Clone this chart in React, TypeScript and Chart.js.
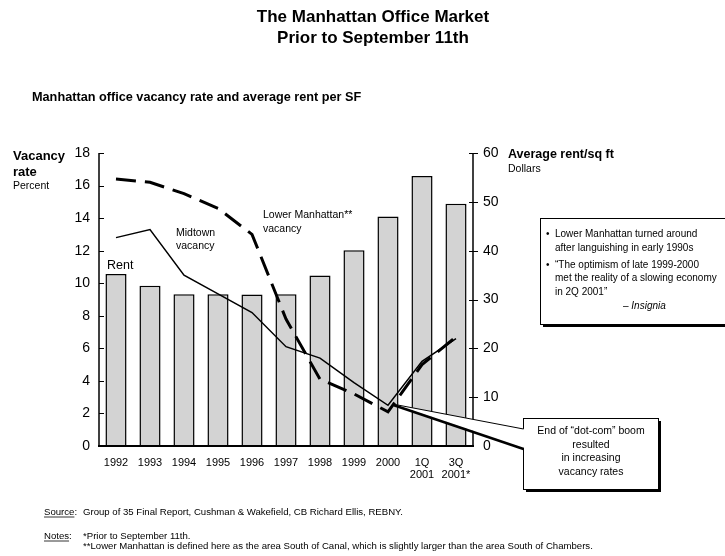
import React, { useEffect, useRef } from 'react';
import { Chart, registerables } from 'chart.js';

Chart.register(...registerables);

const FONT = "'Liberation Sans', Arial, Helvetica, sans-serif";

const categories: (string | string[])[] = [
  '1992', '1993', '1994', '1995', '1996', '1997', '1998', '1999', '2000',
  ['1Q', '2001'], ['3Q', '2001*'],
];
// Average rent per sq ft (dollars, right axis)
const rentPerSqFt = [35.2, 32.8, 31.1, 31.1, 31.0, 31.1, 34.9, 40.1, 47.0, 55.3, 49.6];
// Vacancy rates (percent, left axis)
const midtownVacancy = [12.8, 13.3, 10.5, 9.35, 8.2, 6.1, 5.4, 3.9, 2.5, 5.2, 6.6];
const lowerManhattanVacancy = [16.4, 16.2, 15.5, 14.6, 13.0, 7.8, 4.1, 3.2, 2.1, 5.0, 6.7];

const vacancyTicks = [0, 2, 4, 6, 8, 10, 12, 14, 16, 18];
const rentTicks = [0, 10, 20, 30, 40, 50, 60];

function drawText(
  ctx: CanvasRenderingContext2D,
  s: string,
  x: number,
  y: number,
  font: string,
  align: CanvasTextAlign = 'left',
) {
  ctx.font = font;
  ctx.textAlign = align;
  ctx.textBaseline = 'alphabetic';
  ctx.fillStyle = '#000';
  ctx.fillText(s, x, y);
}

function seg(ctx: CanvasRenderingContext2D, x1: number, y1: number, x2: number, y2: number) {
  ctx.beginPath();
  ctx.moveTo(x1, y1);
  ctx.lineTo(x2, y2);
  ctx.stroke();
}

function shadowBox(ctx: CanvasRenderingContext2D, x: number, y: number, w: number, h: number) {
  ctx.fillStyle = '#000';
  ctx.fillRect(x + 3, y + 3, w, h);
  ctx.fillStyle = '#fff';
  ctx.fillRect(x, y, w, h);
  ctx.strokeStyle = '#000';
  ctx.lineWidth = 1;
  ctx.strokeRect(x + 0.5, y + 0.5, w, h);
}

const overlay = {
  id: 'overlay',
  afterDraw(chart: any) {
    const ctx: CanvasRenderingContext2D = chart.ctx;
    const { left, right, top, bottom } = chart.chartArea;
    const yL = chart.scales.y;
    const yR = chart.scales.y1;
    const xs = chart.scales.x;
    ctx.save();
    ctx.strokeStyle = '#000';

    // axes
    ctx.lineWidth = 1.5;
    seg(ctx, left, top, left, bottom);
    seg(ctx, right, top, right, bottom);
    ctx.lineWidth = 2;
    seg(ctx, left - 1, bottom, right + 1, bottom);
    ctx.lineWidth = 1;
    vacancyTicks.forEach((v) => {
      if (v === 0) return;
      const py = Math.round(yL.getPixelForValue(v)) + 0.5;
      seg(ctx, left, py, left + 5, py);
    });
    rentTicks.forEach((v) => {
      if (v === 0) return;
      const py = Math.round(yR.getPixelForValue(v)) + 0.5;
      seg(ctx, right - 4, py, right + 5, py);
    });

    // titles
    drawText(ctx, 'The Manhattan Office Market', 373, 22, `bold 17px ${FONT}`, 'center');
    drawText(ctx, 'Prior to September 11th', 373, 43, `bold 17px ${FONT}`, 'center');
    drawText(ctx, 'Manhattan office vacancy rate and average rent per SF', 32, 101, `bold 12.7px ${FONT}`);

    // axis titles
    drawText(ctx, 'Vacancy', 13, 160, `bold 13px ${FONT}`);
    drawText(ctx, 'rate', 13, 176, `bold 13px ${FONT}`);
    drawText(ctx, 'Percent', 13, 189, `10.5px ${FONT}`);
    drawText(ctx, 'Average rent/sq ft', 508, 158, `bold 12.5px ${FONT}`);
    drawText(ctx, 'Dollars', 508, 172, `10.5px ${FONT}`);

    // series labels
    drawText(ctx, 'Rent', 107, 269, `12.5px ${FONT}`);
    drawText(ctx, 'Midtown', 176, 236, `10.5px ${FONT}`);
    drawText(ctx, 'vacancy', 176, 249, `10.5px ${FONT}`);
    drawText(ctx, 'Lower Manhattan**', 263, 218, `10.5px ${FONT}`);
    drawText(ctx, 'vacancy', 263, 232, `10.5px ${FONT}`);

    // quote box
    shadowBox(ctx, 540, 218, 200, 106);
    const bf = `10px ${FONT}`;
    drawText(ctx, '•', 546, 237, bf);
    drawText(ctx, 'Lower Manhattan turned around', 555, 237, bf);
    drawText(ctx, 'after languishing in early 1990s', 555, 250.5, bf);
    drawText(ctx, '•', 546, 267.5, bf);
    drawText(ctx, '\u201CThe optimism of late 1999-2000', 555, 267.5, bf);
    drawText(ctx, 'met the reality of a slowing economy', 555, 281, bf);
    drawText(ctx, 'in 2Q 2001\u201D', 555, 294.5, bf);
    drawText(ctx, '\u2013 ', 623, 309, bf);
    ctx.font = bf;
    const dw = ctx.measureText('\u2013 ').width;
    drawText(ctx, 'Insignia', 623 + dw, 309, `italic 10px ${FONT}`);

    // callout box
    shadowBox(ctx, 523, 418, 135, 71);
    const ax = xs.getPixelForValue(8) + 6;
    const ay = yL.getPixelForValue(midtownVacancy[8]) - 1;
    ctx.fillStyle = '#fff';
    ctx.beginPath();
    ctx.moveTo(ax, ay);
    ctx.lineTo(524, 429);
    ctx.lineTo(524, 448);
    ctx.closePath();
    ctx.fill();
    ctx.strokeStyle = '#000';
    ctx.lineWidth = 1;
    seg(ctx, ax, ay, 523.5, 429);
    ctx.lineWidth = 2.5;
    seg(ctx, ax, ay + 1, 523.5, 449);
    const cf = `10.5px ${FONT}`;
    drawText(ctx, 'End of \u201Cdot-com\u201D boom', 591, 434, cf, 'center');
    drawText(ctx, 'resulted', 591, 447.5, cf, 'center');
    drawText(ctx, 'in increasing', 591, 461, cf, 'center');
    drawText(ctx, 'vacancy rates', 591, 474.5, cf, 'center');

    // footnotes
    const ff = `9.6px ${FONT}`;
    drawText(ctx, 'Source:', 44, 515, ff);
    drawText(ctx, 'Group of 35 Final Report, Cushman & Wakefield, CB Richard Ellis, REBNY.', 83, 515, ff);
    drawText(ctx, 'Notes:', 44, 539, ff);
    drawText(ctx, '*Prior to September 11th.', 83, 539, ff);
    drawText(
      ctx,
      '**Lower Manhattan is defined here as the area South of Canal, which is slightly larger than the area South of Chambers.',
      83,
      548.5,
      ff,
    );
    ctx.font = ff;
    ctx.lineWidth = 0.8;
    ctx.strokeStyle = '#000';
    seg(ctx, 44, 517, 44 + ctx.measureText('Source').width, 517);
    seg(ctx, 44, 541, 44 + ctx.measureText('Notes').width, 541);

    ctx.restore();
  },
};

export default function App() {
  const ref = useRef<HTMLCanvasElement | null>(null);

  useEffect(() => {
    if (!ref.current) return;
    const chart = new Chart(ref.current, {
      type: 'bar',
      data: {
        labels: categories as any,
        datasets: [
          {
            type: 'line',
            label: 'Lower Manhattan vacancy',
            data: lowerManhattanVacancy,
            yAxisID: 'y',
            borderColor: '#000',
            borderWidth: 3,
            borderDash: [20, 9],
            pointRadius: 0,
            tension: 0,
            fill: false,
            order: 0,
          } as any,
          {
            type: 'line',
            label: 'Midtown vacancy',
            data: midtownVacancy,
            yAxisID: 'y',
            borderColor: '#000',
            borderWidth: 1.5,
            pointRadius: 0,
            tension: 0,
            fill: false,
            order: 1,
          } as any,
          {
            type: 'bar',
            label: 'Rent',
            data: rentPerSqFt,
            yAxisID: 'y1',
            backgroundColor: '#d3d3d3',
            borderColor: '#000',
            borderWidth: 1.5,
            categoryPercentage: 1,
            barPercentage: 0.62,
            order: 2,
          } as any,
        ],
      },
      options: {
        responsive: false,
        animation: false,
        devicePixelRatio: 1,
        layout: { padding: { left: 59, right: 192, top: 153, bottom: 50 } },
        plugins: {
          legend: { display: false },
          tooltip: { enabled: false },
          title: { display: false },
        },
        scales: {
          x: {
            type: 'category',
            offset: true,
            grid: { display: false, drawTicks: false },
            border: { display: false },
            ticks: {
              color: '#000',
              font: { family: FONT, size: 11, lineHeight: 1.1 },
              padding: 11,
              maxRotation: 0,
              autoSkip: false,
            },
            afterFit: (s: any) => {
              s.height = 60;
            },
          },
          y: {
            position: 'left',
            min: 0,
            max: 18,
            grid: { display: false, drawTicks: false },
            border: { display: false },
            ticks: { color: '#000', font: { family: FONT, size: 14 }, padding: 9 },
            afterBuildTicks: (s: any) => {
              s.ticks = vacancyTicks.map((v) => ({ value: v }));
            },
            afterFit: (s: any) => {
              s.width = 40;
            },
          },
          y1: {
            position: 'right',
            min: 0,
            max: 60,
            grid: { display: false, drawTicks: false },
            border: { display: false },
            ticks: { color: '#000', font: { family: FONT, size: 14 }, padding: 10 },
            afterBuildTicks: (s: any) => {
              s.ticks = rentTicks.map((v) => ({ value: v }));
            },
            afterFit: (s: any) => {
              s.width = 60;
            },
          },
        },
      } as any,
      plugins: [overlay as any],
    });
    return () => chart.destroy();
  }, []);

  return (
    <div style={{ position: 'absolute', left: 0, top: 0, width: 725, height: 556, background: '#fff' }}>
      <canvas ref={ref} width={725} height={556} style={{ display: 'block', width: 725, height: 556 }} />
    </div>
  );
}
